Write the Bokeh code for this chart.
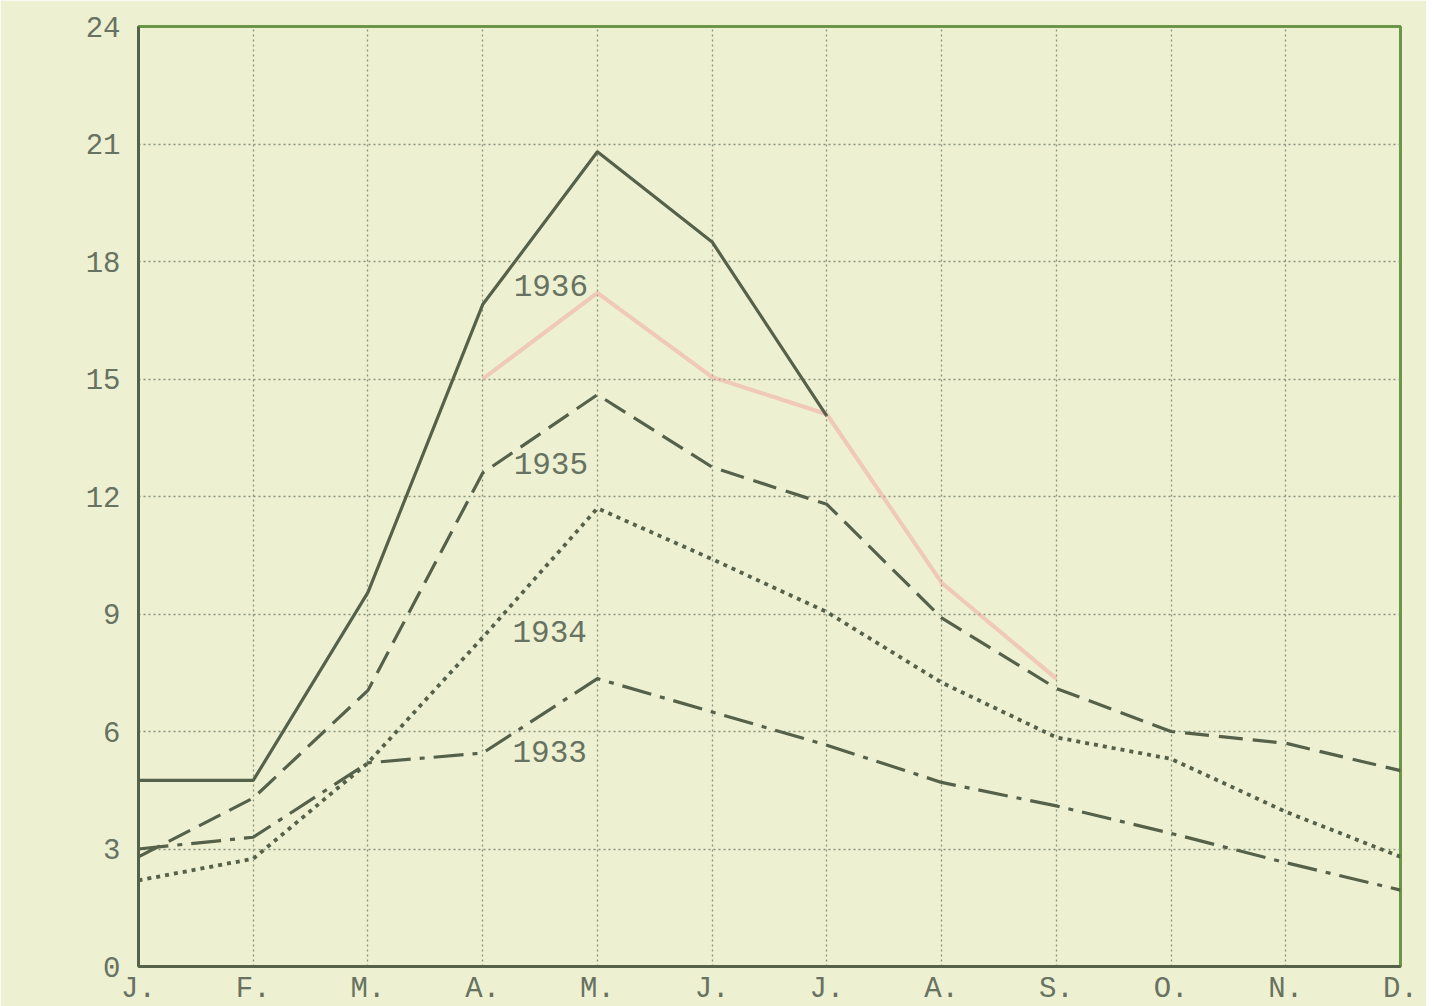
from bokeh.plotting import figure
from bokeh.models import FixedTicker, Range1d
from bokeh.core.properties import value
from bokeh.embed import file_html
from bokeh.resources import INLINE

# ---- data ----
months = ["J.", "F.", "M.", "A.", "M.", "J.", "J.", "A.", "S.", "O.", "N.", "D."]
month_idx = list(range(12))
y_ticks = [0, 3, 6, 9, 12, 15, 18, 21, 24]

v1936 = [4.75, 4.75, 9.55, 16.9, 20.8, 18.5, 14.05]
v1935 = [2.8, 4.3, 7.05, 12.6, 14.6, 12.75, 11.8, 8.9, 7.1, 6.0, 5.7, 5.0]
v1934 = [2.2, 2.75, 5.2, 8.4, 11.7, 10.4, 9.05, 7.25, 5.85, 5.3, 3.95, 2.8]
v1933 = [3.0, 3.3, 5.2, 5.45, 7.35, 6.5, 5.65, 4.7, 4.1, 3.4, 2.65, 1.95]
# faint red correction line (A. to S.)
pink_idx = [3, 4, 5, 6, 7, 8]
pink_vals = [15.0, 17.2, 15.05, 14.1, 9.8, 7.35]

year_labels = ["1936", "1935", "1934", "1933"]
label_x = [3.27, 3.27, 3.26, 3.26]
label_y = [17.4, 12.85, 8.55, 5.5]

# ---- style ----
PAPER = "#eef0d2"
INK = "#566149"
TEXT = "#677260"
GRID = "#87937a"
FONT = "Liberation Mono"

p = figure(frame_width=1262, frame_height=940, output_backend="svg",
           toolbar_location=None, x_range=Range1d(0, 11), y_range=Range1d(0, 24),
           min_border_left=138, min_border_right=26, min_border_top=26,
           min_border_bottom=32)
p.background_fill_color = PAPER
p.border_fill_color = PAPER
p.outline_line_color = "#6a9648"
p.outline_line_width = 3

# grid
p.xgrid.ticker = FixedTicker(ticks=month_idx)
p.ygrid.ticker = FixedTicker(ticks=y_ticks)
for g in (p.xgrid, p.ygrid):
    g.grid_line_color = GRID
    g.grid_line_width = 1.3
    g.grid_line_dash = "2 3"

# axes
p.xaxis.ticker = FixedTicker(ticks=month_idx)
p.xaxis.major_label_overrides = {i: m for i, m in zip(month_idx, months)}
p.yaxis.ticker = FixedTicker(ticks=y_ticks)
for ax in (p.xaxis, p.yaxis):
    ax.axis_line_color = INK
    ax.axis_line_width = 3
    ax.major_tick_line_color = None
    ax.minor_tick_line_color = None
    ax.major_label_text_font = FONT
    ax.major_label_text_font_size = "29px"
    ax.major_label_text_color = TEXT
p.yaxis.major_label_standoff = 12
p.xaxis.major_label_standoff = 0

# lines
p.line(pink_idx, pink_vals, line_color="#f2a2a0", line_width=4, line_alpha=0.5)
p.line(month_idx[:len(v1936)], v1936, line_color=INK, line_width=3.2)
p.line(month_idx, v1935, line_color=INK, line_width=3.2, line_dash="24 10")
p.line(month_idx, v1934, line_color=INK, line_width=3.8, line_dash="4 5")
p.line(month_idx, v1933, line_color=INK, line_width=3.2, line_dash="30 9 5 9")

p.text(x=label_x, y=label_y, text=year_labels, text_font=value(FONT),
       text_font_size="31px", text_color=TEXT, text_align="left",
       text_baseline="middle")

open("out.html", "w").write(file_html(p, INLINE))
